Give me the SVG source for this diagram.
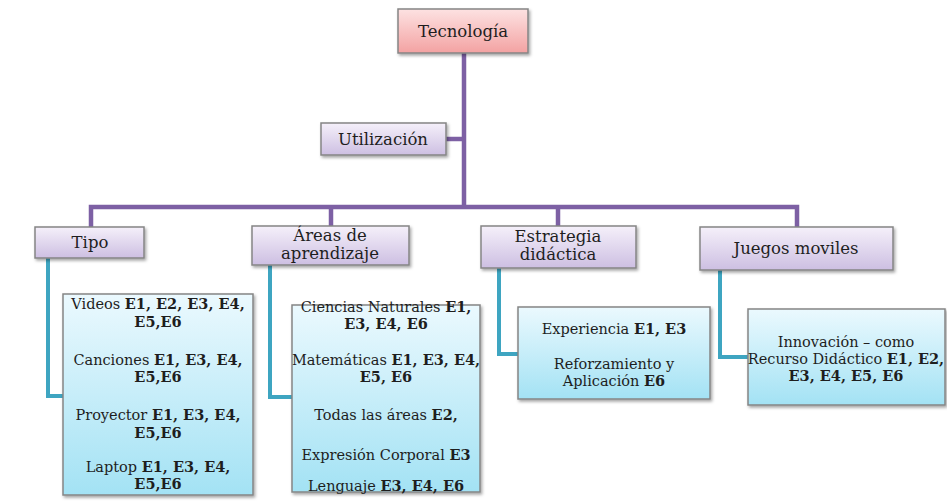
<svg xmlns="http://www.w3.org/2000/svg" width="947" height="501" viewBox="0 0 947 501">
<defs>
<linearGradient id="gPink" x1="0" y1="0" x2="0" y2="1"><stop offset="0" stop-color="#fde2e2"/><stop offset="1" stop-color="#f3a2a2"/></linearGradient>
<linearGradient id="gPurple" x1="0" y1="0" x2="0" y2="1"><stop offset="0" stop-color="#f5f0fa"/><stop offset="1" stop-color="#cdbfe2"/></linearGradient>
<linearGradient id="gCyan" x1="0" y1="0" x2="0" y2="1"><stop offset="0" stop-color="#ebf9fe"/><stop offset="1" stop-color="#a3e2f4"/></linearGradient>
<filter id="sh" x="-10%" y="-10%" width="125%" height="130%"><feDropShadow dx="1.5" dy="2" stdDeviation="1.5" flood-color="#000" flood-opacity="0.35"/></filter>
<style>
.box{stroke:#858585;stroke-width:1.5;filter:url(#sh)}
.pink{fill:url(#gPink)}
.pur{fill:url(#gPurple)}
.cyan{fill:url(#gCyan)}
text{font-family:"DejaVu Serif","Liberation Serif",serif;fill:#1e1e1e;text-anchor:middle}
.lbl{font-size:16.5px}
.leaf{font-size:14.5px}
.b{font-weight:bold}
.cp{fill:none;stroke:#7d60a4;stroke-width:4.5}
.ct{fill:none;stroke:#3ea5c1;stroke-width:4}
</style>
</defs>
<g id="connectors">
<path class="cp" d="M464,53 V207"/>
<path class="cp" d="M446,139 H464"/>
<path class="cp" d="M91,228 V207 H797 V227"/>
<path class="cp" d="M331,207 V226"/>
<path class="cp" d="M558,207 V226"/>
<path class="ct" d="M48,258 V396 H63"/>
<path class="ct" d="M270,265 V397 H292"/>
<path class="ct" d="M499,268 V354 H518"/>
<path class="ct" d="M720,270 V357 H748"/>
</g>
<g id="tecnologia"><rect class="box pink" x="398" y="9" width="130" height="44"/><text class="lbl" x="463" y="37">Tecnología</text></g>
<g id="utilizacion"><rect class="box pur" x="321" y="123" width="125" height="32"/><text class="lbl" x="383" y="145">Utilización</text></g>
<g id="tipo"><rect class="box pur" x="35" y="227" width="109" height="31"/><text class="lbl" x="90" y="248">Tipo</text></g>
<g id="areas"><rect class="box pur" x="252" y="226" width="157" height="39"/><text class="lbl" x="330" y="241">Áreas de</text><text class="lbl" x="330" y="259">aprendizaje</text></g>
<g id="estrategia"><rect class="box pur" x="481" y="226" width="155" height="42"/><text class="lbl" x="558" y="242">Estrategia</text><text class="lbl" x="558" y="260">didáctica</text></g>
<g id="juegos"><rect class="box pur" x="700" y="227" width="193" height="43"/><text class="lbl" x="796" y="254">Juegos moviles</text></g>
<g id="tipo-leaf"><rect class="box cyan" x="63" y="294" width="190" height="201"/>
<text class="leaf" x="158" y="309">Videos <tspan class="b">E1, E2, E3, E4,</tspan></text>
<text class="leaf" x="158" y="327"><tspan class="b">E5,E6</tspan></text>
<text class="leaf" x="158" y="365">Canciones <tspan class="b">E1, E3, E4,</tspan></text>
<text class="leaf" x="158" y="382"><tspan class="b">E5,E6</tspan></text>
<text class="leaf" x="158" y="420">Proyector <tspan class="b">E1, E3, E4,</tspan></text>
<text class="leaf" x="158" y="438"><tspan class="b">E5,E6</tspan></text>
<text class="leaf" x="158" y="472">Laptop <tspan class="b">E1, E3, E4,</tspan></text>
<text class="leaf" x="158" y="489"><tspan class="b">E5,E6</tspan></text>
</g>
<g id="areas-leaf"><rect class="box cyan" x="292" y="305" width="188" height="187"/>
<text class="leaf" x="386" y="312">Ciencias Naturales <tspan class="b">E1,</tspan></text>
<text class="leaf" x="386" y="329"><tspan class="b">E3, E4, E6</tspan></text>
<text class="leaf" x="386" y="365">Matemáticas <tspan class="b">E1, E3, E4,</tspan></text>
<text class="leaf" x="386" y="382"><tspan class="b">E5, E6</tspan></text>
<text class="leaf" x="386" y="420">Todas las áreas  <tspan class="b">E2,</tspan></text>
<text class="leaf" x="386" y="460">Expresión Corporal  <tspan class="b">E3</tspan></text>
<text class="leaf" x="386" y="491">Lenguaje <tspan class="b">E3, E4, E6</tspan></text>
</g>
<g id="estrategia-leaf"><rect class="box cyan" x="518" y="307" width="192" height="92"/>
<text class="leaf" x="614" y="334">Experiencia <tspan class="b">E1, E3</tspan></text>
<text class="leaf" x="614" y="369">Reforzamiento y</text>
<text class="leaf" x="614" y="386">Aplicación <tspan class="b">E6</tspan></text>
</g>
<g id="juegos-leaf"><rect class="box cyan" x="748" y="309" width="197" height="96"/>
<text class="leaf" x="846" y="347">Innovación – como</text>
<text class="leaf" x="846" y="364">Recurso Didáctico <tspan class="b">E1, E2,</tspan></text>
<text class="leaf" x="846" y="381"><tspan class="b">E3, E4, E5, E6</tspan></text>
</g>
</svg>
